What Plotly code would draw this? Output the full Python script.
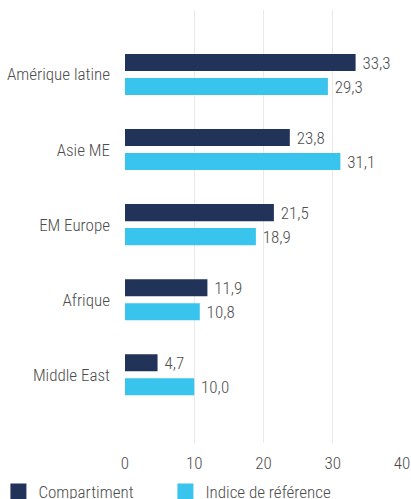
import plotly.graph_objects as go

categories = ["Amérique latine", "Asie ME", "EM Europe", "Afrique", "Middle East"]
compartiment = [33.3, 23.8, 21.5, 11.9, 4.7]
indice = [29.3, 31.1, 18.9, 10.8, 10.0]
x_ticks = [0, 10, 20, 30, 40]

FONT = "Roboto Condensed, Liberation Sans Narrow, Arial Narrow, Roboto, sans-serif"
DARK = "#22335a"
LIGHT = "#38c4ec"
TXT = "#4d4d4d"
fnt = dict(family=FONT, size=17, color=TXT, weight=300)

fig = go.Figure()
for name, vals, col in [("Compartiment", compartiment, DARK),
                        ("Indice de référence", indice, LIGHT)]:
    fig.add_trace(go.Bar(
        y=categories, x=vals, orientation="h", name=name, showlegend=False,
        marker=dict(color=col, line=dict(width=0)),
        texttemplate="\u00a0%{x:.1f}", textposition="outside", constraintext="none",
        textfont=fnt, cliponaxis=False,
    ))
# legend entries (larger square keys)
for name, col in [("Compartiment", DARK), ("Indice de référence", LIGHT)]:
    fig.add_trace(go.Scatter(
        x=[None], y=[None], mode="markers", name=name,
        marker=dict(symbol="square", size=21, color=col),
    ))

fig.update_layout(
    width=411, height=499,
    margin=dict(l=125, r=9, t=10, b=56, autoexpand=False),
    paper_bgcolor="white", plot_bgcolor="white",
    barmode="group", bargap=0.36, bargroupgap=0.29,
    separators=", ",
    font=fnt,
    showlegend=True,
    legend=dict(
        orientation="h",
        x=-0.457, y=-0.113, xanchor="left", yanchor="middle",
        entrywidth=122, entrywidthmode="pixels",
        font=fnt, traceorder="normal", bgcolor="rgba(0,0,0,0)",
    ),
    xaxis=dict(
        range=[0, 40], tickvals=x_ticks, showgrid=True, automargin=False,
        gridcolor="#e9e9e9", gridwidth=1, zeroline=False,
        showline=False, ticks="", ticklabelstandoff=8, tickfont=fnt,
        ticklabeloverflow="allow",
    ),
    yaxis=dict(
        type="category", categoryorder="array", categoryarray=categories,
        range=[4.91, -0.86], showgrid=False, zeroline=False, automargin=False,
        showline=False, ticks="", ticklabelstandoff=14, tickfont=fnt,
    ),
)

fig.write_html(
    "out.html",
    config={"displayModeBar": False},
    post_script="document.body.style.margin='0';document.body.style.overflow='hidden';",
)
